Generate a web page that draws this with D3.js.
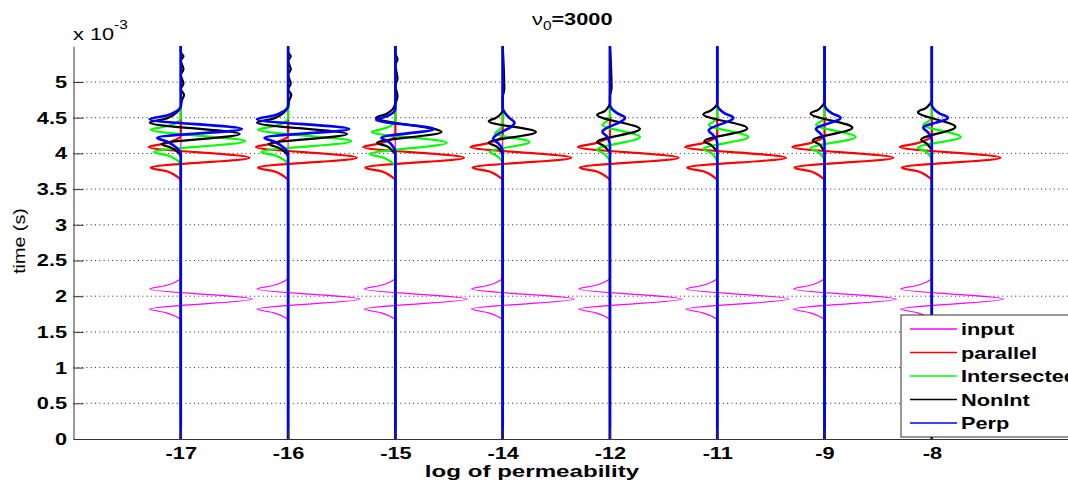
<!DOCTYPE html>
<html>
<head>
<meta charset="utf-8">
<script src="https://cdn.jsdelivr.net/npm/d3@7"></script>
<style>
  body { margin: 0; background: #fff; }
  svg { display: block; font-family: "Liberation Sans", Arial, sans-serif; }
</style>
</head>
<body>
<div id="chart"></div>
<script>
const width = 1068;
const height = 483;

// trace positions on the x axis and their labels
const positions = [1, 2, 3, 4, 5, 6, 7, 8];
const tickLabels = ["-17", "-16", "-15", "-14", "-12", "-11", "-9", "-8"];
const yTicks = [0, 0.5, 1, 1.5, 2, 2.5, 3, 3.5, 4, 4.5, 5];

const seriesNames = ["input", "parallel", "Intersected", "NonInt", "Perp"];
const seriesColors = ["#ff00ff", "#ff0000", "#00ff00", "#000000", "#0000ff"];
const seriesWidths = [1.2, 2.2, 2.2, 2.2, 2.6];

// waveforms as [time (ms), deflection in trace units]
const inputWave = [[2.26, 0], [2.20, -0.05], [2.15, -0.14], [2.10, -0.29], [1.96, 0.67], [1.82, -0.29], [1.77, -0.14], [1.72, -0.05], [1.66, 0]];
const parallelWave = [[4.24, 0], [4.19, -0.05], [4.14, -0.14], [4.09, -0.30], [3.94, 0.64], [3.80, -0.28], [3.75, -0.13], [3.69, -0.05], [3.62, 0]];

const intersectedWaves = [
  [[4.50, 0], [4.43, -0.04], [4.38, -0.13], [4.33, -0.28], [4.17, 0.60], [4.02, -0.25], [3.97, -0.12], [3.91, -0.04], [3.84, 0]],
  [[4.50, 0], [4.43, -0.04], [4.38, -0.13], [4.33, -0.28], [4.17, 0.59], [4.02, -0.25], [3.97, -0.12], [3.91, -0.04], [3.84, 0]],
  [[4.46, 0], [4.40, -0.03], [4.35, -0.10], [4.30, -0.22], [4.15, 0.48], [3.99, -0.24], [3.94, -0.11], [3.88, -0.04], [3.82, 0]],
  [[4.42, 0], [4.37, -0.01], [4.33, -0.03], [4.28, -0.07], [4.16, 0.25], [4.02, -0.12], [3.97, -0.06], [3.92, -0.02], [3.86, 0]],
  [[4.54, 0], [4.49, -0.01], [4.45, -0.03], [4.40, -0.07], [4.23, 0.28], [4.05, -0.12], [4.00, -0.06], [3.94, -0.02], [3.88, 0]],
  [[4.54, 0], [4.49, -0.01], [4.45, -0.03], [4.40, -0.08], [4.23, 0.29], [4.06, -0.13], [4.01, -0.06], [3.95, -0.02], [3.89, 0]],
  [[4.54, 0], [4.49, -0.01], [4.45, -0.03], [4.40, -0.08], [4.23, 0.29], [4.07, -0.13], [4.02, -0.06], [3.96, -0.02], [3.90, 0]],
  [[4.54, 0], [4.49, -0.01], [4.45, -0.03], [4.40, -0.08], [4.23, 0.27], [4.08, -0.13], [4.03, -0.06], [3.97, -0.02], [3.91, 0]]
];

const nonIntWaves = [
  [[5.42, 0], [5.36, 0.025], [5.30, 0], [5.18, 0.025], [5.10, 0], [4.98, 0.025], [4.90, 0], [4.82, 0.03], [4.74, 0.01], [4.66, 0],
   [4.57, -0.04], [4.49, -0.13], [4.43, -0.29], [4.27, 0.55], [4.13, -0.18], [4.08, -0.09], [4.02, -0.03], [3.95, 0]],
  [[5.42, 0], [5.36, 0.025], [5.30, 0], [5.18, 0.025], [5.10, 0], [4.98, 0.025], [4.90, 0], [4.82, 0.03], [4.74, 0.01], [4.66, 0],
   [4.57, -0.04], [4.49, -0.13], [4.43, -0.29], [4.27, 0.55], [4.13, -0.18], [4.08, -0.09], [4.02, -0.03], [3.95, 0]],
  [[5.40, 0], [5.32, 0.02], [5.24, 0], [5.05, 0.02], [4.95, 0], [4.80, 0.02], [4.70, 0],
   [4.61, -0.03], [4.55, -0.09], [4.50, -0.18], [4.30, 0.43], [4.15, -0.17], [4.10, -0.08], [4.04, -0.03], [3.98, 0]],
  [[4.90, 0.015], [4.78, 0], [4.60, 0], [4.55, -0.02], [4.50, -0.06], [4.45, -0.13], [4.30, 0.31], [4.15, -0.13], [4.10, -0.06], [4.04, -0.02], [3.98, 0]],
  [[4.92, 0.015], [4.80, 0], [4.70, 0], [4.64, -0.02], [4.59, -0.05], [4.54, -0.12], [4.34, 0.28], [4.16, -0.12], [4.11, -0.06], [4.05, -0.02], [4.00, 0]],
  [[4.70, 0], [4.65, -0.02], [4.60, -0.06], [4.55, -0.13], [4.35, 0.28], [4.17, -0.12], [4.12, -0.06], [4.06, -0.02], [4.01, 0]],
  [[4.72, 0], [4.67, -0.02], [4.61, -0.06], [4.56, -0.13], [4.36, 0.26], [4.18, -0.11], [4.13, -0.05], [4.07, -0.02], [4.02, 0]],
  [[4.74, 0], [4.69, -0.02], [4.63, -0.06], [4.58, -0.13], [4.37, 0.22], [4.19, -0.10], [4.14, -0.05], [4.09, -0.02], [4.04, 0]]
];

const perpWaves = [
  [[4.66, 0], [4.59, -0.04], [4.53, -0.13], [4.48, -0.29], [4.34, 0.57], [4.22, -0.22], [4.16, -0.12], [4.08, -0.04], [4.00, 0]],
  [[4.66, 0], [4.59, -0.04], [4.53, -0.13], [4.48, -0.29], [4.34, 0.57], [4.22, -0.22], [4.16, -0.12], [4.08, -0.04], [4.00, 0]],
  [[4.63, 0], [4.57, -0.02], [4.52, -0.08], [4.47, -0.18], [4.34, 0.36], [4.22, -0.13], [4.16, -0.06], [4.09, -0.02], [4.03, 0]],
  [[4.64, 0], [4.57, 0.02], [4.50, 0.06], [4.43, 0.11], [4.20, -0.09], [4.14, -0.04], [4.08, -0.01], [4.03, 0]],
  [[4.68, 0], [4.62, 0.02], [4.56, 0.07], [4.50, 0.14], [4.30, -0.07], [4.24, -0.03], [4.18, -0.01], [4.12, 0]],
  [[4.68, 0], [4.62, 0.02], [4.56, 0.07], [4.50, 0.15], [4.32, -0.08], [4.26, -0.04], [4.20, -0.01], [4.15, 0]],
  [[4.68, 0], [4.62, 0.02], [4.56, 0.07], [4.50, 0.15], [4.34, -0.08], [4.28, -0.04], [4.22, -0.01], [4.16, 0]],
  [[4.68, 0], [4.62, 0.02], [4.56, 0.07], [4.50, 0.15], [4.36, -0.08], [4.30, -0.04], [4.24, -0.01], [4.18, 0]]
];

const stretch = "scale(1.28,1)";

const svg = d3.select("#chart")
  .append("svg")
  .attr("width", width)
  .attr("height", height);

const xScale = d3.scaleLinear()
  .domain([0, 9.3])
  .range([73.5, 1071.3]);

const yScale = d3.scaleLinear()
  .domain([0, 5.5])
  .range([439, 46.3]);

// dotted horizontal grid
svg.append("g")
  .selectAll("line")
  .data(yTicks.filter(d => d > 0))
  .join("line")
  .attr("x1", xScale(0))
  .attr("x2", width)
  .attr("y1", d => yScale(d))
  .attr("y2", d => yScale(d))
  .attr("stroke", "#222")
  .attr("stroke-width", 1)
  .attr("stroke-dasharray", "1,3.3");

// one set of waves per trace
const traces = positions.map((pos, i) => ({
  pos,
  waves: [inputWave, parallelWave, intersectedWaves[i], nonIntWaves[i], perpWaves[i]]
}));

// x follows y monotonically, so the lobes do not overshoot
const wiggle = pos => d3.line()
  .x(d => xScale(pos + d[1]))
  .y(d => yScale(d[0]))
  .curve(d3.curveMonotoneY);

const traceG = svg.append("g")
  .selectAll("g")
  .data(traces)
  .join("g");

traceG.selectAll("path")
  .data(d => d.waves.map((w, k) => ({ pos: d.pos, k, pts: [[5.5, 0], ...w, [0, 0]] })))
  .join("path")
  .attr("d", d => wiggle(d.pos)(d.pts))
  .attr("fill", "none")
  .attr("stroke", d => seriesColors[d.k])
  .attr("stroke-width", d => seriesWidths[d.k])
  .attr("stroke-linejoin", "round");

// axes
const yAxis = d3.axisLeft(yScale)
  .tickValues(yTicks)
  .tickFormat(d => d)
  .tickSize(-10)
  .tickPadding(5)
  .tickSizeOuter(0);

const xAxis = d3.axisBottom(xScale)
  .tickValues(positions)
  .tickFormat((d, i) => tickLabels[i])
  .tickSize(-10)
  .tickPadding(8)
  .tickSizeOuter(0);

const gy = svg.append("g")
  .attr("transform", `translate(${xScale(0)}, 0)`)
  .call(yAxis);

const gx = svg.append("g")
  .attr("transform", `translate(0, ${yScale(0)})`)
  .call(xAxis);

[gx, gy].forEach(g => {
  g.select(".domain").attr("stroke", "#333");
  g.selectAll(".tick line").attr("stroke", "#333");
  g.selectAll(".tick text")
    .attr("fill", "#000")
    .attr("font-size", 17)
    .attr("font-weight", "bold")
    .attr("font-family", "Liberation Sans, Arial, sans-serif")
    .attr("transform", stretch);
});

// axis titles
svg.append("text")
  .attr("transform", "translate(532, 477) scale(1.42,1)")
  .attr("text-anchor", "middle")
  .attr("font-size", 17)
  .attr("font-weight", "bold")
  .text("log of permeability");

svg.append("text")
  .attr("transform", "translate(25, 241) rotate(-90) scale(1.16,1)")
  .attr("text-anchor", "middle")
  .attr("font-size", 17)
  .text("time (s)");

// exponent label
const expo = svg.append("text")
  .attr("transform", `translate(73, 40) ${stretch}`)
  .attr("font-size", 17);
expo.append("tspan").text("x 10");
expo.append("tspan").attr("dy", -11).attr("font-size", 12).text("-3");

// title
const title = svg.append("text")
  .attr("transform", `translate(532, 25) ${stretch}`)
  .attr("font-size", 17)
  .attr("font-weight", "bold");
title.append("tspan").attr("font-weight", "normal").text("ν");
title.append("tspan").attr("dy", 5).attr("font-size", 12).attr("font-weight", "normal").text("0");
title.append("tspan").attr("dy", -5).text("=3000");

// legend
const legend = svg.append("g").attr("transform", "translate(901, 315)");

legend.append("rect")
  .attr("width", 200)
  .attr("height", 122)
  .attr("fill", "#fff")
  .attr("stroke", "#333");

const rows = legend.selectAll("g.row")
  .data(seriesNames)
  .join("g")
  .attr("class", "row")
  .attr("transform", (d, i) => `translate(0, ${14 + i * 23.5})`);

rows.append("line")
  .attr("x1", 9)
  .attr("x2", 56)
  .attr("stroke", (d, i) => seriesColors[i])
  .attr("stroke-width", 1.5);

rows.append("text")
  .attr("transform", `translate(60, 6) ${stretch}`)
  .attr("font-size", 17)
  .attr("font-weight", "bold")
  .text(d => d);
</script>
</body>
</html>
